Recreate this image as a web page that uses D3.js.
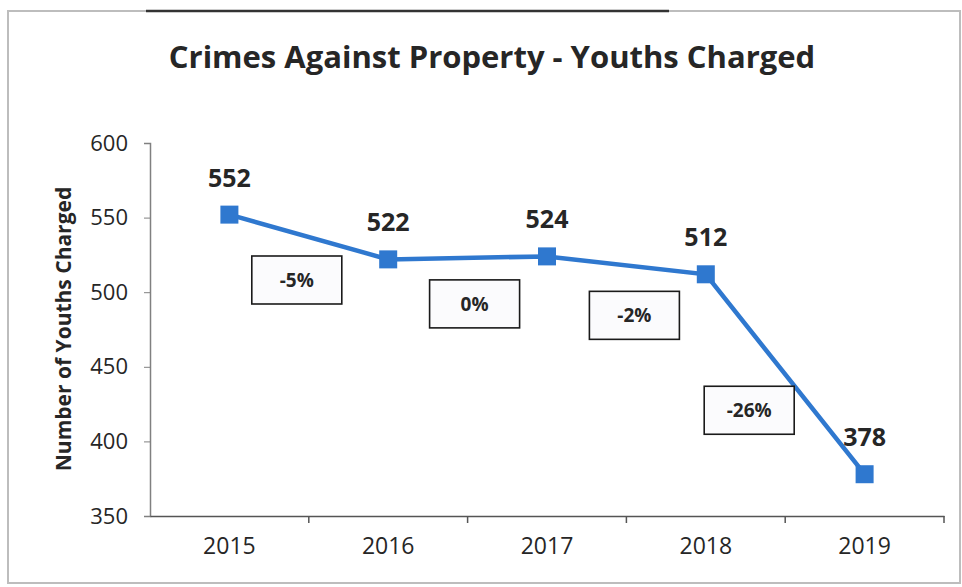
<!DOCTYPE html>
<html>
<head>
<meta charset="utf-8">
<script src="https://cdn.jsdelivr.net/npm/d3@7"></script>
<style>
  body { margin: 0; background: #fff; }
  text { font-family: "Open Sans", sans-serif; fill: #262626; }
</style>
</head>
<body>
<script>
// chart data
const years = ["2015", "2016", "2017", "2018", "2019"];
const charged = [552, 522, 524, 512, 378];
const yTicks = [350, 400, 450, 500, 550, 600];

const width = 962, height = 587;
const blue = "#2f78cf";

const svg = d3.select("body").append("svg")
  .attr("width", width)
  .attr("height", height);

// frame around the chart
svg.append("rect")
  .attr("x", 8).attr("y", 11)
  .attr("width", 952).attr("height", 572)
  .attr("fill", "none")
  .attr("stroke", "#bdbdbd")
  .attr("stroke-width", 2);
svg.append("line")
  .attr("x1", 146).attr("x2", 669)
  .attr("y1", 11).attr("y2", 11)
  .attr("stroke", "#333").attr("stroke-width", 2.5);

const x = d3.scaleBand().domain(years).range([150, 944]);
const y = d3.scaleLinear().domain([350, 600]).range([516, 143]);
const cx = d => x(d) + x.bandwidth() / 2;

// title
svg.append("text")
  .attr("x", 492).attr("y", 68)
  .attr("text-anchor", "middle")
  .style("font-size", "31px")
  .style("font-weight", "bold")
  .text("Crimes Against Property - Youths Charged");

// y axis
const yAxis = svg.append("g")
  .attr("transform", "translate(150,0)")
  .call(d3.axisLeft(y).tickValues(yTicks).tickSize(6).tickPadding(16));
yAxis.select(".domain").attr("stroke", "#808080").attr("stroke-width", 1.5);
yAxis.selectAll(".tick line").attr("stroke", "#808080");
yAxis.selectAll(".tick text")
  .style("font-size", "22px")
  .style("font-family", "'Open Sans', sans-serif")
  .attr("fill", "#262626");

svg.append("text")
  .attr("transform", "translate(71,329) rotate(-90)")
  .attr("text-anchor", "middle")
  .style("font-size", "21px")
  .style("font-weight", "bold")
  .text("Number of Youths Charged");

// x axis: labels at band centres, ticks at band edges
const xAxis = svg.append("g")
  .attr("transform", "translate(0,516)")
  .call(d3.axisBottom(x).tickSize(0).tickPadding(22));
xAxis.select(".domain").attr("stroke", "#555").attr("stroke-width", 1.5);
xAxis.selectAll(".tick text")
  .style("font-size", "23px")
  .style("font-family", "'Open Sans', sans-serif")
  .attr("fill", "#262626");
xAxis.selectAll("line.edge")
  .data(years.slice(1).map(d => x(d)).concat([x.range()[1]]))
  .join("line")
    .attr("class", "edge")
    .attr("x1", d => d).attr("x2", d => d)
    .attr("y1", 0).attr("y2", 7)
    .attr("stroke", "#555").attr("stroke-width", 1.5);

// series line and markers
const pts = years.map((d, i) => ({year: d, value: charged[i]}));

svg.append("path")
  .datum(pts)
  .attr("fill", "none")
  .attr("stroke", blue)
  .attr("stroke-width", 4.5)
  .attr("d", d3.line().x(d => cx(d.year)).y(d => y(d.value)));

svg.selectAll("rect.marker")
  .data(pts)
  .join("rect")
    .attr("class", "marker")
    .attr("x", d => cx(d.year) - 9)
    .attr("y", d => y(d.value) - 9)
    .attr("width", 18).attr("height", 18)
    .attr("fill", blue);

svg.selectAll("text.value")
  .data(pts)
  .join("text")
    .attr("class", "value")
    .attr("x", d => cx(d.year))
    .attr("y", d => y(d.value) - 28)
    .attr("text-anchor", "middle")
    .style("font-size", "25px")
    .style("font-weight", "bold")
    .text(d => d.value);

// percent change boxes, placed under each segment
const pct = d3.format(".0%");
const changes = pts.slice(1).map((d, i) => {
  const prev = pts[i];
  const v = (d.value - prev.value) / prev.value;
  return {
    label: pct(v).replace("−", "-"),
    mx: (cx(prev.year) + cx(d.year)) / 2,
    my: (y(prev.value) + y(d.value)) / 2
  };
});
const nudge = [[-12, 43], [7, 46], [8, 50], [-36, 36]];

const boxes = svg.selectAll("g.change")
  .data(changes)
  .join("g")
    .attr("class", "change")
    .attr("transform", (d, i) => `translate(${d.mx + nudge[i][0]},${d.my + nudge[i][1]})`);

boxes.append("rect")
  .attr("x", -45).attr("y", -24)
  .attr("width", 90).attr("height", 48)
  .attr("fill", "#fbfbfd")
  .attr("stroke", "#1a1a1a")
  .attr("stroke-width", 1.6);

boxes.append("text")
  .attr("text-anchor", "middle")
  .attr("dy", "0.35em")
  .style("font-size", "19px")
  .style("font-weight", "bold")
  .text(d => d.label);
</script>
</body>
</html>
